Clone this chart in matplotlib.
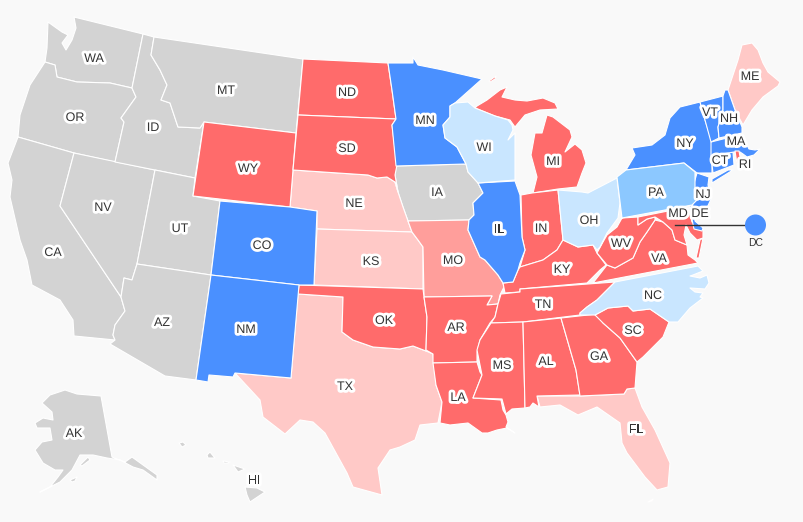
import matplotlib
matplotlib.use('Agg')
import matplotlib.pyplot as plt
import matplotlib.patheffects as pe
from matplotlib.patches import Polygon, Circle

# state outlines, in image pixels
WA = [(74,17),(143,34),(132,88),(110,83),(77,82),(57,77),(55,65),(45,62),(47,48),(48,22),(62,32),(68,35),(62,43),(66,50),(72,40),(76,28)]
OR = [(45,62),(55,65),(57,77),(77,82),(110,83),(132,88),(136,97),(121,118),(124,122),(115,162),(74,153),(18,137),(20,115),(30,85)]
CA = [(18,137),(74,153),(60,206),(121,297),(125,311),(115,325),(113,335),(115,340),(74,336),(73,320),(60,300),(32,285),(27,260),(20,240),(10,197),(12,180),(8,163)]
NV = [(74,153),(155,170),(137,264),(132,280),(124,278),(121,297),(60,206)]
ID = [(143,34),(154,37),(151,55),(160,70),(167,85),(161,100),(170,103),(178,127),(200,128),(204,122),(195,178),(115,162),(124,122),(121,118),(136,97),(132,88)]
MT = [(154,37),(303,59),(296,133),(204,122),(200,128),(178,127),(170,103),(161,100),(167,85),(160,70),(151,55)]
WY = [(204,122),(296,133),(290,207),(193,196)]
UT = [(155,170),(195,178),(193,196),(220,201),(211,275),(137,264)]
AZ = [(137,264),(211,275),(196,380),(165,376),(110,344),(115,340),(113,335),(115,325),(125,311),(121,297),(124,278),(132,280)]
CO = [(220,201),(290,207),(317,211),(314,285),(299,285),(211,275)]
NM = [(211,275),(299,285),(291,378),(235,373),(233,377),(209,375),(208,382),(196,380)]
ND = [(303,59),(388,63),(392,90),(396,119),(298,115)]
SD = [(298,115),(396,119),(392,125),(397,165),(395,175),(398,192),(395,182),(387,177),(377,178),(368,175),(293,170)]
NE = [(293,170),(368,175),(377,178),(387,177),(395,182),(398,192),(403,207),(408,221),(412,232),(317,229),(317,211),(290,207)]
KS = [(317,229),(412,232),(418,240),(423,247),(423,289),(314,285)]
OK = [(299,285),(423,289),(424,297),(427,317),(426,351),(413,346),(400,349),(373,347),(353,340),(342,332),(343,297),(298,294)]
TX = [(298,294),(343,297),(342,332),(353,340),(373,347),(400,349),(413,346),(426,351),(433,354),(434,363),(436,385),(442,402),(438,423),(420,425),(415,440),(400,447),(390,450),(378,468),(382,495),(353,487),(347,473),(325,433),(313,422),(300,420),(285,434),(263,417),(260,400),(235,373),(291,378)]
MN = [(388,63),(413,63),(413,57),(418,65),(443,70),(482,79),(455,103),(450,106),(450,117),(443,125),(445,138),(457,147),(466,164),(396,166),(392,125),(396,119),(392,90)]
IA = [(396,166),(466,164),(468,172),(478,183),(483,193),(473,203),(474,215),(469,220),(408,221),(403,207),(398,192),(395,175)]
MO = [(408,221),(469,220),(468,230),(480,257),(485,260),(498,275),(503,283),(504,287),(500,295),(498,304),(487,305),(492,296),(424,297),(423,247),(418,240),(412,232)]
AR = [(424,297),(492,296),(487,305),(498,304),(495,317),(490,323),(480,340),(477,352),(477,362),(433,363),(433,354),(426,350),(427,317)]
LA = [(433,363),(477,362),(480,372),(482,375),(473,398),(501,400),(503,410),(506,415),(508,422),(506,427),(515,433),(507,428),(497,430),(488,433),(482,433),(475,428),(468,423),(450,425),(440,423),(442,402),(436,385)]
WI = [(450,106),(455,103),(468,102),(475,108),(495,116),(508,120),(512,125),(513,130),(508,140),(515,133),(515,180),(478,183),(468,172),(466,164),(457,147),(445,138),(443,125),(450,117)]
IL = [(478,183),(515,181),(520,195),(522,237),(525,250),(520,263),(518,270),(513,282),(503,283),(498,275),(485,260),(480,257),(468,230),(469,220),(474,215),(473,203),(483,193)]
IN = [(521,195),(532,193),(558,190),(563,240),(557,250),(543,260),(520,267),(525,250),(522,237)]
OH = [(558,190),(582,192),(588,193),(617,178),(620,203),(618,218),(607,233),(600,247),(597,250),(593,245),(578,247),(563,240)]
MI_LOWER = [(533,193),(558,189),(577,187),(582,173),(586,163),(582,150),(575,144),(565,152),(572,137),(570,130),(553,117),(547,115),(542,133),(535,133),(531,155),(537,177)]
MI_UPPER = [(477,106),(487,100),(500,90),(507,87),(502,97),(515,100),(527,101),(543,98),(555,103),(558,109),(540,110),(525,115),(515,127),(510,120),(495,116),(475,108)]
MI_ISLE = [(489,81),(496,76),(495,79),(490,82)]
KY = [(505,293),(503,283),(513,282),(518,270),(520,267),(543,260),(557,250),(563,240),(578,247),(593,245),(597,253),(606,265),(600,270),(587,283),(520,289),(520,292)]
TN = [(498,304),(501,294),(520,292),(520,289),(615,282),(597,300),(587,307),(580,313),(580,315),(523,322),(491,323),(495,317)]
MS = [(491,323),(523,322),(525,408),(512,409),(506,414),(502,399),(473,398),(482,375),(477,350),(480,340)]
AL = [(523,322),(561,318),(576,370),(580,395),(537,396),(539,407),(533,403),(530,407),(525,408)]
GA = [(561,318),(597,314),(603,323),(620,338),(637,362),(635,388),(627,389),(624,394),(580,396),(576,370)]
FL = [(537,396),(580,396),(624,394),(627,389),(635,388),(642,407),(655,430),(670,463),(668,487),(657,490),(645,477),(627,453),(622,443),(620,423),(597,407),(578,415),(560,405),(540,407)]
FL_KEY = [(648,502),(653,499),(652,501)]
SC = [(595,315),(608,308),(628,306),(633,311),(650,309),(669,322),(663,337),(643,357),(637,362),(620,338),(603,323)]
NC = [(580,313),(587,307),(597,300),(615,282),(698,266),(703,271),(693,275),(690,276),(700,278),(707,275),(709,283),(705,289),(690,288),(695,292),(703,293),(700,297),(703,298),(690,308),(678,322),(669,322),(650,309),(633,311),(628,306),(608,308),(595,315),(580,315)]
VA = [(593,283),(607,265),(615,268),(633,258),(640,242),(647,232),(655,220),(663,222),(672,230),(675,240),(687,245),(688,255),(695,260),(698,263)]
VA_SHORE = [(700,240),(703,238),(699,258),(696,258)]
WV = [(622,218),(621,205),(622,218),(638,217),(638,225),(647,219),(655,217),(655,220),(647,232),(640,242),(633,258),(615,268),(607,265),(597,253),(603,242),(607,235),(617,227)]
MD = [(638,217),(688,207),(692,222),(703,228),(703,238),(697,240),(690,233),(686,225),(684,235),(687,245),(675,240),(672,230),(663,222),(655,217),(647,219),(638,225)]
DE = [(689,205),(694,208),(695,221),(703,228),(702,231),(694,229)]
PA = [(617,177),(626,170),(684,163),(695,172),(695,187),(697,200),(692,205),(622,218)]
NJ = [(697,173),(709,177),(708,185),(712,197),(706,210),(700,208),(692,206),(696,197),(693,187)]
NY = [(626,170),(635,155),(632,148),(652,145),(665,135),(670,118),(680,107),(700,102),(705,120),(712,142),(712,173),(697,173),(684,163)]
NY_LI = [(712,183),(712,179),(728,170),(733,170)]
CT = [(711,156),(733,152),(734,165),(713,173)]
RI = [(735,151),(739,151),(741,162),(737,164)]
MA = [(711,142),(743,134),(746,143),(749,149),(755,150),(760,149),(754,155),(747,157),(743,154),(740,152),(734,152),(711,156)]
VT = [(700,102),(723,96),(723,110),(718,127),(719,138),(711,142),(705,120)]
NH = [(723,96),(725,90),(728,90),(735,110),(742,127),(742,133),(719,138),(718,127),(723,110)]
ME = [(728,90),(738,60),(742,45),(752,43),(758,50),(763,63),(768,72),(780,82),(778,86),(763,97),(752,110),(743,125),(735,110)]
AK = [(65,390),(77,394),(101,396),(112,457),(125,462),(132,457),(157,475),(157,480),(143,470),(133,467),(120,460),(107,458),(93,455),(80,455),(72,470),(60,482),(40,492),(50,487),(58,477),(63,470),(55,470),(43,463),(35,450),(42,442),(52,440),(50,428),(37,428),(35,423),(43,418),(53,420),(52,412),(42,403),(50,395)]
AK_KODIAK = [(70,480),(77,477),(75,481),(72,482)]
AK_KENAI = [(80,465),(88,457),(90,460),(82,466)]
HI_BIG = [(245,487),(257,488),(265,492),(250,502),(247,495)]
HI_MAUI = [(233,465),(245,469),(238,472)]
HI_OAHU = [(207,455),(210,452),(215,458),(208,458)]
HI_KAUAI = [(179,443),(183,442),(186,445),(182,447)]
HI_MOLOKAI = [(223,461),(230,462),(228,463),(224,463)]

GRAY = '#d3d3d3'
RED = '#ff6b6b'
PINK = '#ffc9c7'
SALMON = '#ff9e9b'
BLUE = '#4a90ff'
SKY = '#c9e6ff'
MIDBLUE = '#8cc8ff'

gray_shapes = [WA, OR, CA, NV, ID, MT, UT, AZ, IA, AK, AK_KODIAK, AK_KENAI, HI_BIG, HI_MAUI, HI_OAHU, HI_KAUAI, HI_MOLOKAI]
red_shapes = [WY, ND, SD, OK, AR, LA, MI_LOWER, MI_UPPER, MI_ISLE, IN, KY, TN, MS, AL, GA, SC, VA, VA_SHORE, WV, MD]
pink_shapes = [NE, KS, TX, FL, FL_KEY, ME]
salmon_shapes = [MO]
blue_shapes = [CO, NM, MN, IL, NY, NY_LI, NJ, DE, CT, MA, VT, NH]
sky_shapes = [WI, OH, NC]
midblue_shapes = [PA]
top_shapes = [RI]

labels = ['WA','OR','CA','NV','ID','MT','WY','UT','AZ','CO','NM','ND','SD','NE','KS','OK','TX','MN','IA','MO','AR','LA',
          'WI','IL','IN','OH','MI','MS','AL','TN','KY','GA','FL','SC','NC','VA','WV','PA','NY','VT','NH','ME','MA','CT','RI','NJ','DE','MD','AK','HI']
label_x = [94,75,53,103,153,226,248,180,162,262,246,347,347,354,371,384,345,425,437,453,456,458,
           484,499,541,589,553,502,546,543,562,599,636,633,653,659,621,656,685,710,729,750,736,720,745,703,700,678,74,254]
label_y = [59,118,253,208,128,91,169,229,323,246,330,93,149,204,262,321,387,121,193,261,328,398,
           148,230,229,221,162,366,362,305,270,357,430,331,296,259,244,193,144,113,119,77,142,161,165,195,214,214,434,481]

fig = plt.figure(figsize=(8.04, 5.22), dpi=100, facecolor='#f9f9f9')
ax = fig.add_axes([0, 0, 1, 1])
ax.set_xlim(0, 804)
ax.set_ylim(522, 0)
ax.axis('off')

for shapes, color in [(gray_shapes, GRAY), (pink_shapes, PINK), (salmon_shapes, SALMON), (red_shapes, RED),
                      (blue_shapes, BLUE), (sky_shapes, SKY), (midblue_shapes, MIDBLUE), (top_shapes, RED)]:
    for shape in shapes:
        ax.add_patch(Polygon(shape, closed=True, facecolor=color, edgecolor='white', linewidth=0.8, joinstyle='round'))

ax.plot([675, 746], [225, 225], color='#333333', linewidth=1.0, zorder=3)
ax.add_patch(Circle((755.5, 225), 10.5, facecolor=BLUE, edgecolor='none', zorder=4))
ax.text(755.5, 242.5, 'DC', ha='center', va='center', fontsize=7.5, color='#333333', family='Liberation Sans', zorder=5)

for name, x, y in zip(labels, label_x, label_y):
    ax.text(x, y, name, ha='center', va='center', fontsize=9, color='#333333', family='Liberation Sans', zorder=5,
            path_effects=[pe.withStroke(linewidth=4, foreground='white')])

fig.savefig('out.png', dpi=100, facecolor=fig.get_facecolor())
